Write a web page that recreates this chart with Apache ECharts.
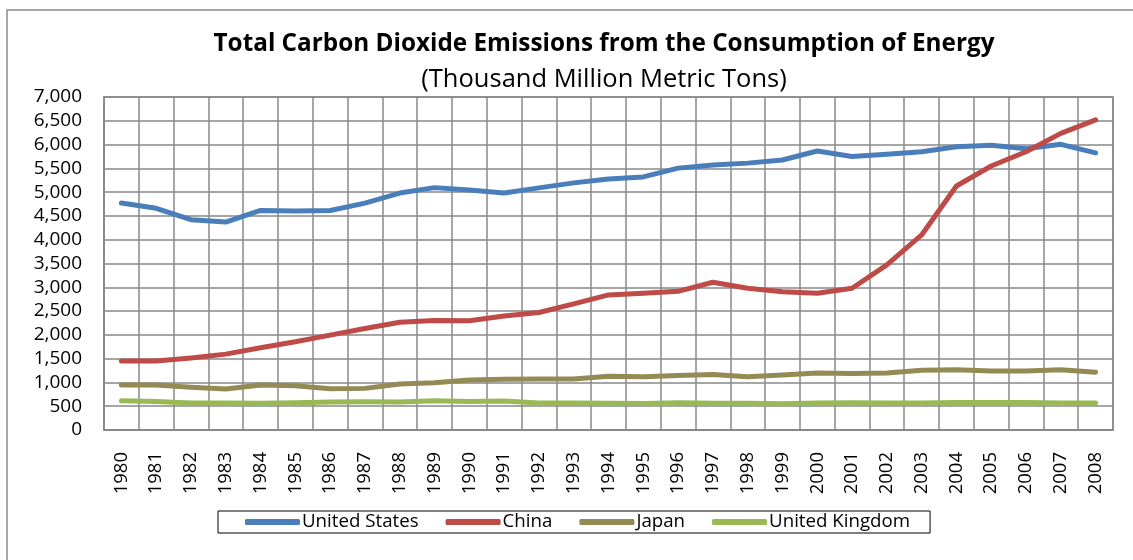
<!DOCTYPE html>
<html>
<head>
<meta charset="utf-8">
<script src="https://cdn.jsdelivr.net/npm/echarts@6/dist/echarts.min.js"></script>
<style>html,body{margin:0;padding:0;background:#fff}#c{width:1133px;height:560px}</style>
</head>
<body>
<div id="c"></div>
<script>
var years = ['1980','1981','1982','1983','1984','1985','1986','1987','1988','1989','1990','1991','1992','1993','1994','1995','1996','1997','1998','1999','2000','2001','2002','2003','2004','2005','2006','2007','2008'];
var unitedStates = [4770,4660,4420,4370,4615,4605,4615,4770,4980,5095,5045,4980,5090,5195,5275,5320,5505,5570,5610,5675,5865,5750,5795,5850,5955,5985,5910,6005,5825];
var china = [1450,1450,1515,1595,1730,1855,1995,2135,2265,2300,2295,2395,2470,2650,2840,2875,2915,3105,2980,2905,2875,2980,3470,4100,5130,5550,5850,6235,6520];
var japan = [945,945,900,860,945,930,865,875,965,995,1050,1065,1070,1070,1130,1120,1145,1165,1120,1155,1200,1190,1200,1255,1265,1240,1240,1265,1215];
var unitedKingdom = [615,598,570,568,562,575,588,596,590,615,598,608,570,568,562,556,575,562,562,550,568,575,568,568,580,580,580,568,568];
var yTicks = [0,500,1000,1500,2000,2500,3000,3500,4000,4500,5000,5500,6000,6500,7000];

var FONT = 'Open Sans';
var chart = echarts.init(document.getElementById('c'), null, {renderer: 'canvas'});
function mk(name, data, color) {
  return {
    name: name, type: 'line', data: data, symbol: 'none', smooth: false,
    lineStyle: {color: color, width: 5, cap: 'round', join: 'round'},
    itemStyle: {color: color}
  };
}
chart.setOption({
  animation: false,
  backgroundColor: '#fff',
  textStyle: {fontFamily: FONT},
  title: [
    {text: 'Total Carbon Dioxide Emissions from the Consumption of Energy', left: 599, top: 27, textAlign: 'center',
     textStyle: {fontFamily: FONT, fontWeight: 'bold', fontSize: 24.3, color: '#000'}},
    {text: '(Thousand Million Metric Tons)', left: 599, top: 62, textAlign: 'center',
     textStyle: {fontFamily: FONT, fontWeight: 'normal', fontSize: 25.5, color: '#000'}}
  ],
  graphic: [
    {type: 'rect', shape: {x: 7, y: 10, width: 1300, height: 700}, style: {fill: 'none', stroke: '#8a8a8a', lineWidth: 1.5}, silent: true, z: -1}
  ],
  legend: {
    data: ['United States', 'China', 'Japan', 'United Kingdom'],
    left: 218, top: 511,
    orient: 'horizontal',
    icon: 'roundRect',
    itemWidth: 55, itemHeight: 6, itemGap: 27,
    padding: [1, 20, 1, 27],
    borderColor: '#000', borderWidth: 1, backgroundColor: '#fff',
    textStyle: {fontFamily: FONT, fontSize: 18.7, lineHeight: 20, color: '#000', padding: [0, 0, 0, -3]}
  },
  grid: {left: 104, right: 20, top: 97, bottom: 130, show: true, borderColor: '#888', borderWidth: 1.5},
  xAxis: {
    type: 'category', data: years, boundaryGap: true,
    axisLine: {show: true, lineStyle: {color: '#888', width: 1.5}},
    axisTick: {show: false},
    splitLine: {show: true, interval: 0, lineStyle: {color: '#888', width: 1.5}},
    axisLabel: {rotate: 90, interval: 0, margin: 22, fontFamily: FONT, fontSize: 18.5, color: '#000', verticalAlign: 'middle'}
  },
  yAxis: {
    type: 'value', min: 0, max: 7000, interval: 500,
    axisLine: {show: true, lineStyle: {color: '#888', width: 1.5}},
    axisTick: {show: false},
    splitLine: {show: true, lineStyle: {color: '#888', width: 1.5}},
    axisLabel: {margin: 22, fontFamily: FONT, fontSize: 19, color: '#000',
      formatter: function (v) { return v.toLocaleString('en-US'); }}
  },
  series: [
    mk('United States', unitedStates, '#4A7EBB'),
    mk('China', china, '#BE4B48'),
    mk('Japan', japan, '#948A54'),
    mk('United Kingdom', unitedKingdom, '#98B954')
  ]
});
</script>
</body>
</html>
